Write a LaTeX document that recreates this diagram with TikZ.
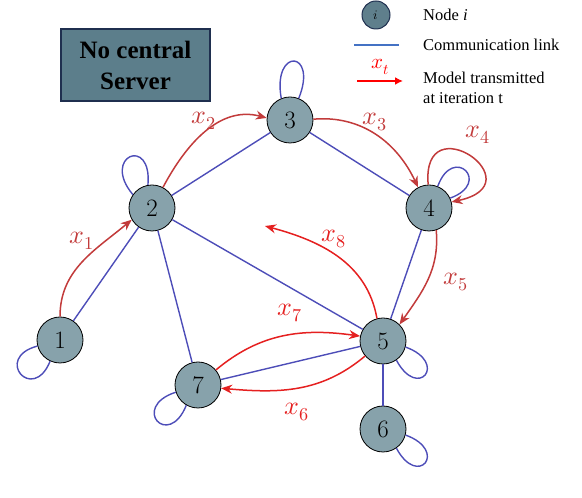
\documentclass[tikz,border=0pt]{standalone}
\usepackage{fontspec}
\usepackage{unicode-math}
\setmainfont{Liberation Serif}
\setmathfont{Latin Modern Math}
\newfontfamily\lmfont{Latin Modern Roman}
\usetikzlibrary{arrows.meta}
\definecolor{nodefill}{HTML}{87A2AB}
\definecolor{boxfill}{HTML}{5C7E8B}
\definecolor{boxdraw}{HTML}{1F2F4F}
\definecolor{legfill}{HTML}{5F7F8C}
\definecolor{linkblue}{HTML}{4D4DB8}
\definecolor{legblue}{HTML}{4472C4}
\definecolor{darkred}{HTML}{C23B3B}
\definecolor{brightred}{HTML}{E52020}
\tikzset{
  gnode/.style={circle,draw=black,line width=0.8pt,fill=nodefill,minimum size=46pt,inner sep=0pt,font=\lmfont\fontsize{25}{30}\selectfont},
  link/.style={draw=linkblue,line width=1.4pt},
  sendA/.style={draw=darkred,line width=1.5pt,-{Stealth[length=11pt,width=9pt]}},
  sendB/.style={draw=brightred,line width=1.5pt,-{Stealth[length=11pt,width=9pt]}},
  lblA/.style={text=darkred,font=\fontsize{26}{30}\selectfont,inner sep=0pt},
  lblB/.style={text=brightred,font=\fontsize{26}{30}\selectfont,inner sep=0pt},
  legtext/.style={anchor=west,font=\fontsize{16.5}{20}\selectfont,inner sep=0pt}
}
\begin{document}
\begin{tikzpicture}[x=1pt,y=1pt]
\useasboundingbox (0,0) rectangle (582,498);
% title box
\node[draw=boxdraw,line width=1.5pt,fill=boxfill,minimum width=149pt,minimum height=72pt,align=center,font=\bfseries\fontsize{25}{31}\selectfont,inner sep=0pt] (title) at (135.5,433) {No central\\Server};
% legend
\node[circle,draw=boxdraw,line width=1pt,fill=legfill,minimum size=28pt,inner sep=0pt,font=\fontsize{13}{15}\selectfont] (legnode) at (376,483) {$i$};
\node[legtext] (legnodet) at (423,483) {Node \textit{i}};
\coordinate (lb1) at (354,453);
\coordinate (lb2) at (399,453);
\draw[draw=legblue,line width=1.6pt] (lb1) -- (lb2);
\node[legtext] (leglinkt) at (423,453) {Communication link};
\coordinate (lr1) at (357,417);
\coordinate (lr2) at (403,417);
\draw[draw=red,line width=1.6pt,-{Latex[length=8pt,width=8pt]}] (lr1) -- (lr2);
\node[text=red,font=\fontsize{21}{24}\selectfont] (legxt) at (380,431) {$x_t$};
\node[legtext,align=left,font=\fontsize{16.5}{20}\selectfont] (legmodel) at (423,410) {Model transmitted\\at iteration t};
% nodes
\node[gnode] (n1) at (60,158) {1};
\node[gnode] (n2) at (152,290) {2};
\node[gnode] (n3) at (290,378) {3};
\node[gnode] (n4) at (429,290) {4};
\node[gnode] (n5) at (383,157) {5};
\node[gnode] (n6) at (383,69) {6};
\node[gnode] (n7) at (198,113) {7};
% links
\draw[link] (n1) -- (n2);
\draw[link] (n2) -- (n3);
\draw[link] (n3) -- (n4);
\draw[link] (n2) -- (n7);
\draw[link] (n2) -- (n5);
\draw[link] (n4) -- (n5);
\draw[link] (n7) -- (n5);
\draw[link] (n5) -- (n6);
% self loops
\draw[link] (n1.195) .. controls +(195:46) and +(248:46) .. (n1.245);
\draw[link] (n2.145) .. controls +(130:50) and +(85:50) .. (n2.100);
\draw[link] (n3.112) .. controls +(100:52) and +(68:52) .. (n3.68);
\draw[link] (n4.68) .. controls +(70:45) and +(20:45) .. (n4.25);
\draw[link] (n5.-15) .. controls +(-20:46) and +(-62:46) .. (n5.-55);
\draw[link] (n6.-15) .. controls +(-20:46) and +(-62:46) .. (n6.-55);
\draw[link] (n7.198) .. controls +(198:48) and +(248:48) .. (n7.240);
% transmissions
\draw[sendA] (n1.90) to[out=90,in=220] (n2.210);
\draw[sendA] (n2.62) to[out=62,in=165] (n3.175);
\draw[sendA] (n3.2) to[out=5,in=115] (n4.118);
\draw[sendA] (n4.92) .. controls +(95:82) and +(12:88) .. (n4.15);
\draw[sendA] (n4.-72) to[out=-85,in=55] (n5.45);
\coordinate (x8end) at (265,272);
\draw[sendB] (n5.105) to[out=100,in=-15] (x8end);
\draw[sendB] (n7.40) to[out=40,in=172] (n5.168);
\draw[sendB] (n5.220) to[out=220,in=-5] (n7.-8);
% labels
\node[lblA] (l1) at (82,257) {$x_1$};
\node[lblA] (l2) at (204,377) {$x_2$};
\node[lblA] (l3) at (375,376) {$x_3$};
\node[lblA] (l4) at (478,363) {$x_4$};
\node[lblA] (l5) at (456,216) {$x_5$};
\node[lblB] (l6) at (297,86) {$x_6$};
\node[lblB] (l7) at (290,185) {$x_7$};
\node[lblB] (l8) at (334,259) {$x_8$};
\end{tikzpicture}
\end{document}
